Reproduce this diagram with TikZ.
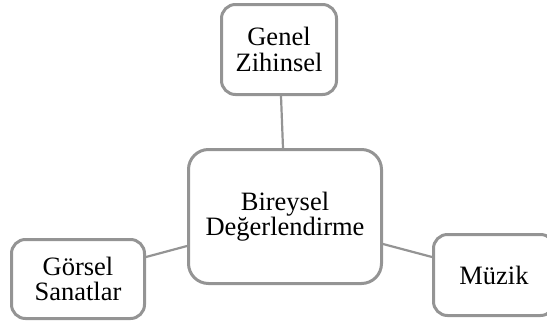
\documentclass[tikz,border=0pt]{standalone}
\usepackage{fontspec}
\setmainfont{Liberation Serif}
\definecolor{boxgray}{RGB}{148,148,148}
\begin{document}
\begin{tikzpicture}[x=1pt,y=-1pt,
  box/.style={draw=boxgray, line width=3pt, rounded corners=14pt, align=center,
    font=\fontsize{26.5}{25.5}\selectfont, inner sep=0pt},
  link/.style={draw=boxgray, line width=2.2pt}]
  \useasboundingbox (0,0) rectangle (547,325);
  \clip (0,0) rectangle (547,325);
  % category boxes
  \node[box, minimum width=115pt, minimum height=90pt] (genel) at (279,49.5) {Genel\\Zihinsel};
  \node[box, minimum width=193pt, minimum height=134pt, rounded corners=20pt] (bireysel) at (285,216.5) {Bireysel\\Değerlendirme};
  \node[box, minimum width=133pt, minimum height=79pt] (gorsel) at (78,279) {Görsel\\Sanatlar};
  \node[box, minimum width=121pt, minimum height=81pt] (muzik) at (494,275) {Müzik};
  % connectors to the central box
  \draw[link] ([xshift=2pt]genel.south) -- ([xshift=-2pt]bireysel.north);
  \draw[link] ([yshift=22pt]gorsel.east) -- ([yshift=-29.5pt]bireysel.west);
  \draw[link] ([yshift=-27.5pt]bireysel.east) -- ([yshift=18pt]muzik.west);
\end{tikzpicture}
\end{document}
